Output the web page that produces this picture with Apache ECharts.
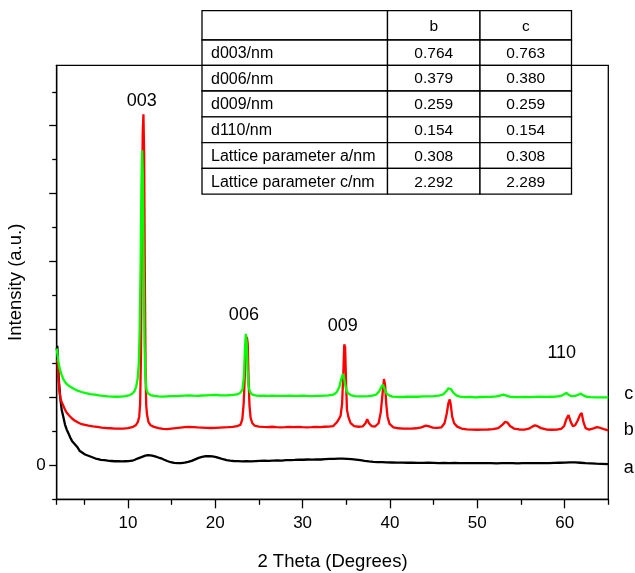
<!DOCTYPE html>
<html>
<head>
<meta charset="utf-8">
<script src="https://cdn.jsdelivr.net/npm/echarts@6/dist/echarts.min.js"></script>
<style>
  html, body { margin: 0; padding: 0; background: #fff; }
  #chart { width: 635px; height: 573px; }
</style>
</head>
<body>
<div id="chart"></div>
<script>
// XRD patterns: 2θ (degrees) vs intensity (a.u., vertically offset per sample)
const sampleA = [
  [1.85,1700],[1.92,1760],[2.0,1480],[2.1,1250],[2.25,1000],[2.42,820],[2.6,720],[2.8,600],[3.0,525],[3.2,470],
  [3.4,410],[3.6,360],[3.8,330],[4.0,300],[4.25,262],[4.5,210],[4.8,185],[5.1,160],[5.4,145],[5.7,130],
  [6.0,115],[6.3,100],[6.6,92],[6.9,82],[7.3,76],[7.7,68],[8.1,64],[8.5,60],[8.9,62],[9.3,58],
  [9.7,60],[10.1,62],[10.5,68],[10.8,82],[11.1,100],[11.4,114],[11.7,128],[12.0,142],[12.3,150],[12.6,148],
  [12.9,138],[13.2,128],[13.5,115],[13.8,104],[14.1,86],[14.5,64],[14.9,46],[15.3,36],[15.7,32],[16.1,34],
  [16.5,40],[16.9,50],[17.3,66],[17.7,88],[18.1,110],[18.5,124],[18.9,134],[19.3,136],[19.7,132],[20.1,122],
  [20.5,106],[20.9,90],[21.3,78],[21.7,70],[22.1,64],[22.6,62],[23.1,58],[23.6,60],[24.1,58],[24.6,62],
  [25.1,66],[25.6,70],[26.1,66],[26.6,70],[27.1,72],[27.6,70],[28.1,76],[28.6,78],[29.1,80],[29.6,84],
  [30.1,82],[30.6,86],[31.1,84],[31.6,88],[32.1,86],[32.6,92],[33.1,94],[33.6,96],[34.1,100],[34.6,98],
  [35.1,96],[35.6,92],[36.1,84],[36.6,76],[37.1,66],[37.6,58],[38.1,52],[38.6,48],[39.1,46],[39.6,44],
  [40.2,42],[40.8,40],[41.4,40],[42,38],[42.6,38],[43.2,36],[43.8,36],[44.4,38],[45,36],[45.6,34],
  [46.2,36],[46.8,34],[47.4,36],[48,34],[48.6,32],[49.2,34],[49.8,32],[50.4,32],[51,34],[51.6,32],
  [52.2,30],[52.8,32],[53.4,34],[54,32],[54.6,30],[55.2,32],[55.8,34],[56.4,32],[57,34],[57.6,32],
  [58.2,34],[58.8,36],[59.4,38],[60,40],[60.6,44],[61.2,44],[61.8,38],[62.4,32],[63,28],[63.6,24],
  [64.2,22],[65,18]
];
const sampleB = [
  [1.85,1560],[1.95,1520],[2.05,1300],[2.15,1100],[2.3,980],[2.45,920],[2.6,880],[2.8,820],[3.0,775],[3.3,730],
  [3.6,690],[3.9,660],[4.3,630],[4.7,606],[5.1,596],[5.5,584],[6.0,574],[6.5,566],[7.0,556],[7.5,550],
  [8.0,546],[8.5,542],[9.0,540],[9.5,542],[10.0,548],[10.5,562],[10.9,590],[11.15,640],[11.3,720],[11.4,900],
  [11.5,1600],[11.6,3600],[11.7,4900],[11.78,5170],[11.86,4600],[11.95,2600],[12.03,1300],[12.1,880],[12.2,740],[12.35,640],
  [12.6,590],[13.0,566],[13.5,548],[14.0,538],[14.5,532],[15.0,540],[15.5,548],[16.0,556],[16.5,562],[17.0,566],
  [17.5,562],[18.0,558],[18.5,556],[19.0,552],[19.5,550],[20.0,552],[20.5,556],[21.0,560],[21.5,562],[22.0,566],
  [22.5,576],[22.9,600],[23.1,680],[23.25,900],[23.38,1300],[23.5,1780],[23.62,1890],[23.72,1790],[23.82,1250],[23.92,880],
  [24.05,700],[24.25,620],[24.5,586],[25.0,570],[25.5,566],[26.0,564],[26.5,568],[27.0,562],[27.5,560],[28.0,562],
  [28.5,566],[29.0,564],[29.5,566],[30.0,562],[30.5,560],[31.0,562],[31.5,566],[32.0,564],[32.5,568],[33.0,570],
  [33.5,578],[33.9,630],[34.15,680],[34.35,730],[34.52,900],[34.65,1300],[34.77,1780],[34.87,1740],[34.97,1250],[35.08,820],
  [35.25,710],[35.5,620],[35.9,576],[36.4,568],[36.9,574],[37.2,620],[37.4,680],[37.6,620],[37.9,578],[38.3,572],
  [38.7,620],[38.95,780],[39.15,1050],[39.32,1270],[39.45,1180],[39.58,900],[39.72,720],[39.95,610],[40.4,560],[41.0,546],
  [41.5,540],[42.0,542],[42.5,540],[43.0,546],[43.6,560],[44.1,584],[44.4,576],[44.9,556],[45.4,552],[45.9,560],
  [46.25,620],[46.5,760],[46.7,920],[46.85,970],[46.98,880],[47.12,720],[47.35,620],[47.7,570],[48.2,542],[48.8,530],
  [49.4,526],[50.0,524],[50.6,526],[51.2,528],[51.8,532],[52.4,548],[52.9,600],[53.2,640],[53.45,630],[53.75,580],
  [54.2,542],[54.8,528],[55.4,526],[55.9,540],[56.3,570],[56.6,588],[56.9,576],[57.3,548],[57.9,528],[58.5,524],
  [59.1,526],[59.6,536],[59.95,580],[60.2,680],[60.45,740],[60.7,640],[60.95,576],[61.2,590],[61.5,660],[61.75,740],
  [61.95,770],[62.15,640],[62.4,548],[62.8,526],[63.3,544],[63.7,562],[64.1,550],[64.5,532],[65.0,516]
];
const sampleC = [
  [1.85,1720],[1.95,1620],[2.05,1520],[2.2,1420],[2.4,1340],[2.6,1270],[2.9,1210],[3.2,1175],[3.5,1150],[3.9,1120],
  [4.3,1095],[4.7,1080],[5.2,1062],[5.7,1050],[6.2,1040],[6.7,1030],[7.2,1022],[7.7,1016],[8.2,1012],[8.7,1010],
  [9.2,1012],[9.7,1020],[10.2,1035],[10.5,1055],[10.75,1090],[10.95,1160],[11.12,1280],[11.25,1500],[11.35,2000],[11.45,2900],
  [11.55,4100],[11.63,4640],[11.71,4300],[11.8,3000],[11.9,1800],[12.0,1320],[12.12,1120],[12.3,1060],[12.6,1035],[13.0,1022],
  [13.5,1016],[14.0,1012],[14.5,1016],[15.0,1020],[15.5,1018],[16.0,1022],[16.5,1026],[17.0,1030],[17.5,1026],[18.0,1024],
  [18.5,1028],[19.0,1030],[19.5,1034],[20.0,1036],[20.5,1032],[21.0,1030],[21.5,1032],[22.0,1036],[22.5,1044],[22.9,1070],
  [23.12,1120],[23.28,1300],[23.4,1700],[23.5,1935],[23.6,1800],[23.7,1420],[23.82,1160],[23.98,1080],[24.2,1045],[24.6,1030],
  [25.0,1024],[25.5,1026],[26.0,1022],[26.5,1026],[27.0,1024],[27.5,1022],[28.0,1024],[28.5,1026],[29.0,1022],[29.5,1024],
  [30.0,1026],[30.5,1022],[31.0,1020],[31.5,1024],[32.0,1022],[32.5,1026],[33.0,1030],[33.5,1040],[33.9,1075],[34.2,1150],
  [34.42,1270],[34.62,1345],[34.8,1250],[34.98,1120],[35.2,1060],[35.6,1030],[36.0,1018],[36.5,1014],[37.0,1016],[37.5,1020],
  [38.0,1025],[38.4,1040],[38.75,1085],[39.0,1150],[39.2,1187],[39.4,1120],[39.6,1060],[39.9,1030],[40.3,1012],[40.8,1008],
  [41.4,1006],[42.0,1010],[42.6,1012],[43.2,1010],[43.8,1014],[44.4,1016],[45.0,1020],[45.6,1026],[46.1,1045],[46.45,1090],
  [46.7,1135],[46.85,1150],[47.0,1120],[47.25,1070],[47.6,1030],[48.0,1012],[48.6,1004],[49.2,1006],[49.8,1002],[50.4,1006],
  [51.0,1008],[51.6,1010],[52.2,1016],[52.7,1030],[52.95,1042],[53.25,1030],[53.7,1012],[54.2,1006],[54.8,1004],[55.4,1006],
  [56.0,1004],[56.6,1008],[57.2,1010],[57.8,1008],[58.4,1010],[59.0,1012],[59.6,1024],[59.95,1048],[60.2,1065],[60.45,1040],
  [60.8,1018],[61.2,1022],[61.55,1040],[61.85,1055],[62.15,1030],[62.5,1010],[63.0,1004],[63.6,1000],[64.2,1002],[65.0,1000]
];

// Reflection labels (hkl) and where they sit
const reflectionNames = ['003', '006', '009', '110'];
const reflectionPos = [[11.58, 5363], [23.28, 2216], [34.6, 2044], [59.67, 1657]];

// Sample tags drawn just right of the frame
const sampleNames = ['c', 'b', 'a'];
const sampleTagPos = [[67.33, 1050], [67.33, 520], [67.33, -40]];

// Axis ticks
const xLabelTicks = [10, 20, 30, 40, 50, 60];
const xMinorTicks = [1.85, 5, 15, 25, 35, 45, 55, 65];
const yMajorTicks = [0, 1000, 2000, 3000, 4000, 5000];
const yMinorTicks = [-500, 500, 1500, 2500, 3500, 4500, 5500];
const yLabelTicks = [0];

// Lattice table
const tableHeader = ['', 'b', 'c'];
const tableRowNames = ['d003/nm', 'd006/nm', 'd009/nm', 'd110/nm', 'Lattice parameter a/nm', 'Lattice parameter c/nm'];
const tableColB = ['0.764', '0.379', '0.259', '0.154', '0.308', '2.292'];
const tableColC = ['0.763', '0.380', '0.259', '0.154', '0.308', '2.289'];

const FONT = '"Liberation Sans", Arial, Helvetica, sans-serif';

function buildTable() {
  const colX = [202, 387.5, 480, 571.5];
  const rowY = [10.7, 40, 65.3, 91, 116.8, 142.6, 168.4, 194.2];
  const rows = [tableHeader].concat(tableRowNames.map((n, i) => [n, tableColB[i], tableColC[i]]));
  const els = [];
  rows.forEach((row, r) => {
    row.forEach((txt, c) => {
      const x0 = colX[c], x1 = colX[c + 1], y0 = rowY[r], y1 = rowY[r + 1];
      els.push({
        type: 'rect', z: 100,
        shape: { x: x0, y: y0, width: x1 - x0, height: y1 - y0 },
        style: { fill: '#fff', stroke: '#000', lineWidth: 1.3 }
      });
      if (txt) {
        els.push({
          type: 'text', z: 101,
          x: c === 0 ? x0 + 9 : (x0 + x1) / 2,
          y: (y0 + y1) / 2 + 1,
          style: {
            text: txt, fill: '#000', font: (c === 0 ? '16px ' : '15.5px ') + FONT,
            textAlign: c === 0 ? 'left' : 'center', textVerticalAlign: 'middle'
          }
        });
      }
    });
  });
  return els;
}

// Text placed at data coordinates through the chart's own scales
function textSeries(name, names, positions) {
  return {
    name: name, type: 'custom', z: 6, clip: false, silent: true,
    data: positions.map((p, i) => [p[0], p[1], i]),
    renderItem: (params, api) => {
      const pt = api.coord([api.value(0), api.value(1)]);
      return {
        type: 'text', x: pt[0], y: pt[1],
        style: {
          text: names[api.value(2)], fill: '#000', font: '18px ' + FONT,
          textAlign: 'center', textVerticalAlign: 'middle'
        }
      };
    }
  };
}

const chart = echarts.init(document.getElementById('chart'), null, { renderer: 'canvas' });

const axisLineStyle = { color: '#000', width: 1.3 };
const xBase = { type: 'value', min: 1.85, max: 65, position: 'bottom', splitLine: { show: false } };
const yBase = { type: 'value', min: -500, max: 5890, position: 'left', splitLine: { show: false } };

chart.setOption({
  animation: false,
  backgroundColor: '#fff',
  grid: {
    left: 56.7, right: 26.7, top: 65.3, bottom: 73.7,
    outerBoundsMode: 'none', containLabel: false,
    show: true, borderColor: '#000', borderWidth: 1.3, backgroundColor: 'transparent'
  },
  xAxis: [
    Object.assign({}, xBase, {
      name: '2 Theta (Degrees)', nameLocation: 'middle', nameGap: 53,
      nameTextStyle: { fontFamily: FONT, fontSize: 18.5, color: '#000' },
      axisLine: { onZero: false, lineStyle: axisLineStyle },
      axisTick: { length: 9, customValues: xLabelTicks, lineStyle: axisLineStyle },
      axisLabel: { customValues: xLabelTicks, margin: 16, fontFamily: FONT, fontSize: 17, color: '#000' }
    }),
    Object.assign({}, xBase, {
      axisLine: { show: false, onZero: false },
      axisTick: { length: 5.5, customValues: xMinorTicks, lineStyle: axisLineStyle },
      axisLabel: { show: false }
    })
  ],
  yAxis: [
    Object.assign({}, yBase, {
      name: 'Intensity (a.u.)', nameLocation: 'middle', nameGap: 25,
      nameTextStyle: { fontFamily: FONT, fontSize: 18.5, color: '#000' },
      axisLine: { onZero: false, lineStyle: axisLineStyle },
      axisTick: { length: 7.5, customValues: yMajorTicks, lineStyle: axisLineStyle },
      axisLabel: { customValues: yLabelTicks, margin: 11, fontFamily: FONT, fontSize: 17, color: '#000' }
    }),
    Object.assign({}, yBase, {
      axisLine: { show: false, onZero: false },
      axisTick: { length: 4.5, customValues: yMinorTicks, lineStyle: axisLineStyle },
      axisLabel: { show: false }
    })
  ],
  series: [
    { name: 'a', type: 'line', data: sampleA, showSymbol: false, symbol: 'none',
      lineStyle: { color: '#000000', width: 2.3 }, z: 3 },
    { name: 'b', type: 'line', data: sampleB, showSymbol: false, symbol: 'none',
      lineStyle: { color: '#ff0000', width: 2.3 }, z: 4 },
    { name: 'c', type: 'line', data: sampleC, showSymbol: false, symbol: 'none',
      lineStyle: { color: '#00ff00', width: 2.3 }, z: 5 },
    textSeries('reflections', reflectionNames, reflectionPos),
    textSeries('tags', sampleNames, sampleTagPos)
  ],
  graphic: buildTable()
});
</script>
</body>
</html>
